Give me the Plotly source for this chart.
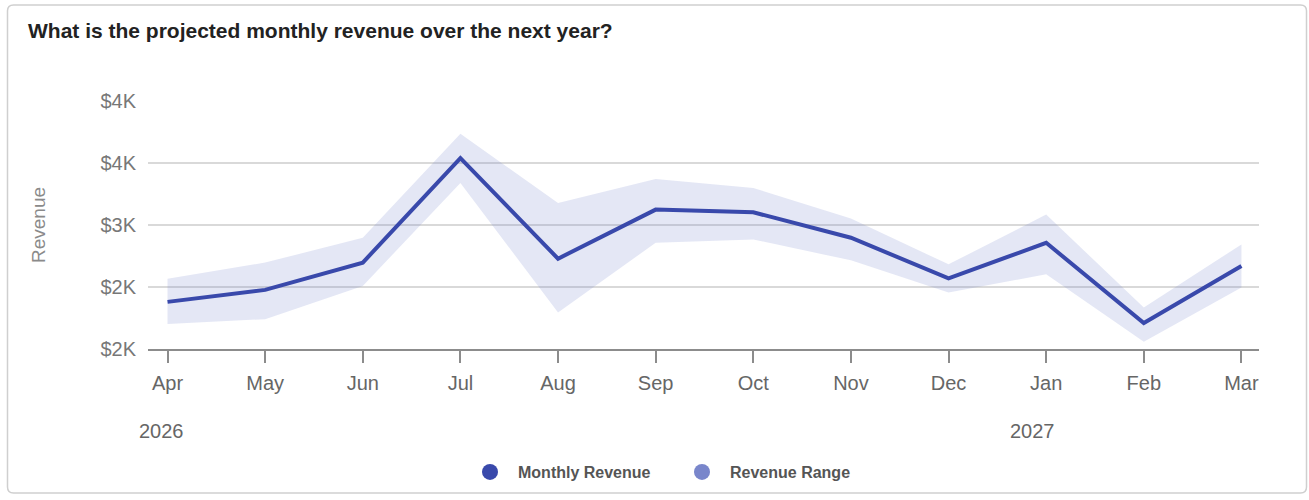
import plotly.graph_objects as go

# ---- data ----
months = ["Apr", "May", "Jun", "Jul", "Aug", "Sep", "Oct", "Nov", "Dec", "Jan", "Feb", "Mar"]
revenue = [2256, 2372, 2636, 3648, 2674, 3149, 3123, 2877, 2484, 2828, 2051, 2603]
range_high = [2481, 2636, 2877, 3882, 3214, 3445, 3359, 3063, 2619, 3101, 2202, 2812]
range_low = [2041, 2089, 2410, 3407, 2154, 2828, 2860, 2658, 2347, 2523, 1870, 2395]
y_tick_values = [1800, 2400, 3000, 3600, 4200]
y_tick_labels = ["$2K", "$2K", "$3K", "$4K", "$4K"]
year_months = ["Apr", "Jan"]
year_labels = ["2026", "2027"]

LINE_COLOR = "#3949AB"
RANGE_COLOR = "#7986CB"
BAND_FILL = "rgba(121,134,203,0.20)"
FONT = "Liberation Sans, Arial, sans-serif"

W, H = 1309, 500
L, R, T, B = 148, 50, 101, 150
PW, PH = W - L - R, H - T - B


def px(xp):
    return (xp - L) / PW


def py(yp):
    return (H - B - yp) / PH


fig = go.Figure()

# forecast range band
fig.add_trace(go.Scatter(
    x=months, y=range_high, mode="lines", line=dict(width=0, color=BAND_FILL),
    showlegend=False, hoverinfo="skip",
))
fig.add_trace(go.Scatter(
    x=months, y=range_low, mode="lines", line=dict(width=0, color=BAND_FILL),
    fill="tonexty", fillcolor=BAND_FILL, showlegend=False, hoverinfo="skip",
))
# main revenue line
fig.add_trace(go.Scatter(
    x=months, y=revenue, mode="lines", line=dict(width=4, color=LINE_COLOR),
    showlegend=False, name="Monthly Revenue",
))
# legend entries
fig.add_trace(go.Scatter(
    x=[None], y=[None], mode="markers", name="Monthly Revenue",
    marker=dict(size=20, color=LINE_COLOR),
))
fig.add_trace(go.Scatter(
    x=[None], y=[None], mode="markers", name="Revenue Range",
    marker=dict(size=20, color=RANGE_COLOR),
))

annotations = [
    dict(text="Revenue", textangle=-90, x=px(38), y=0.5, xref="paper", yref="paper",
         xanchor="center", yanchor="middle", showarrow=False,
         font=dict(family=FONT, size=19, color="#8a8a8a")),
]
for m, yl in zip(year_months, year_labels):
    annotations.append(dict(
        text=yl, x=m, xref="x", y=py(432), yref="paper", xanchor="center",
        yanchor="middle", showarrow=False, xshift=-6 if yl == "2026" else -14,
        font=dict(family=FONT, size=20, color="#666666"),
    ))

# card outline with rounded corners
x0, x1, y0, y1, r = 7.5, 1306.5, 4.5, 494.5, 6
path = (
    f"M {px(x0 + r)},{py(y0)} L {px(x1 - r)},{py(y0)} "
    f"Q {px(x1)},{py(y0)} {px(x1)},{py(y0 + r)} "
    f"L {px(x1)},{py(y1 - r)} Q {px(x1)},{py(y1)} {px(x1 - r)},{py(y1)} "
    f"L {px(x0 + r)},{py(y1)} Q {px(x0)},{py(y1)} {px(x0)},{py(y1 - r)} "
    f"L {px(x0)},{py(y0 + r)} Q {px(x0)},{py(y0)} {px(x0 + r)},{py(y0)} Z"
)

fig.update_layout(
    width=W, height=H,
    margin=dict(l=L, r=R, t=T, b=B),
    paper_bgcolor="white", plot_bgcolor="white",
    font=dict(family=FONT, color="#666666"),
    title=dict(
        text="<b>What is the projected monthly revenue over the next year?</b>",
        xref="container", yref="container", x=28 / W, y=1 - 31 / H,
        xanchor="left", yanchor="middle",
        font=dict(family=FONT, size=21, color="#222222"),
    ),
    xaxis=dict(
        type="category", range=[-0.2, 11.18],
        showgrid=False, showline=True, linecolor="#8c8c8c", linewidth=2,
        ticks="outside", ticklen=12, tickwidth=1.5, tickcolor="#8c8c8c",
        ticklabelstandoff=3,
        tickfont=dict(family=FONT, size=20, color="#666666"),
        fixedrange=True,
    ),
    yaxis=dict(
        range=[1800, 4200], tickvals=y_tick_values, ticktext=y_tick_labels,
        showgrid=True, gridcolor="#d9d9d9", gridwidth=1.5, zeroline=False,
        showline=False, ticks="", ticklabelstandoff=11,
        tickfont=dict(family=FONT, size=20, color="#777777"),
        fixedrange=True,
    ),
    legend=dict(
        orientation="h", x=px(462), xanchor="left", y=py(472), yanchor="middle",
        traceorder="normal",
        itemwidth=46, entrywidth=151, entrywidthmode="pixels",
        font=dict(family=FONT, size=16, color="#555555", weight="bold"),
        bgcolor="rgba(0,0,0,0)",
    ),
    annotations=annotations,
    shapes=[dict(type="path", path=path, xref="paper", yref="paper",
                 line=dict(color="#cfcfcf", width=1.5), layer="below")],
    showlegend=True,
)

fig.write_html("out.html")
